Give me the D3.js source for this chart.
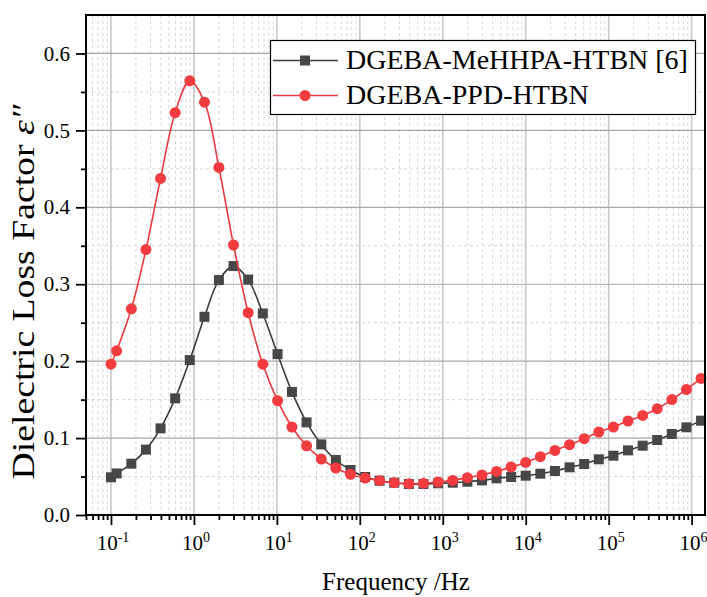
<!DOCTYPE html>
<html><head><meta charset="utf-8">
<script src="https://cdn.jsdelivr.net/npm/d3@7"></script>
<style>body{margin:0;background:#fff}</style>
</head><body><svg id="c" width="707" height="597"></svg>
<script>
const freq = [0.1, 0.117, 0.176, 0.264, 0.396, 0.594, 0.891, 1.34, 2.0, 3.0, 4.51, 6.77, 10.2, 15.2, 22.8, 34.3, 51.4, 77.1, 116, 173, 260, 390, 586, 879, 1320, 1980, 2970, 4450, 6670, 10000, 15000, 22500, 33800, 50700, 76000, 114000, 171000, 257000, 385000, 577000, 866000, 1300000];
const mehhpa = [0.049, 0.054, 0.0667, 0.085, 0.1126, 0.1516, 0.2014, 0.2577, 0.3054, 0.3236, 0.306, 0.262, 0.2092, 0.160, 0.1204, 0.0918, 0.0715, 0.0585, 0.0494, 0.0446, 0.042, 0.0403, 0.0403, 0.0412, 0.042, 0.0433, 0.045, 0.0477, 0.0494, 0.0511, 0.0537, 0.0572, 0.062, 0.0663, 0.0724, 0.0771, 0.084, 0.0901, 0.0975, 0.1053, 0.114, 0.1226];
const ppd = [0.196, 0.2135, 0.268, 0.345, 0.4375, 0.523, 0.5644, 0.5367, 0.4518, 0.351, 0.263, 0.196, 0.1486, 0.1144, 0.090, 0.0728, 0.0611, 0.0529, 0.048, 0.0446, 0.042, 0.0407, 0.0412, 0.0429, 0.045, 0.0485, 0.052, 0.0567, 0.0624, 0.0684, 0.0758, 0.084, 0.0914, 0.0992, 0.1079, 0.1144, 0.1222, 0.1295, 0.1382, 0.15, 0.1633, 0.1776];
const seriesNames = ["DGEBA-MeHHPA-HTBN [6]", "DGEBA-PPD-HTBN"];
const yTicks = [0.0, 0.1, 0.2, 0.3, 0.4, 0.5, 0.6];
const yMinor = [0.05, 0.15, 0.25, 0.35, 0.45, 0.55];
const xTicks = [0.1, 1, 10, 100, 1000, 10000, 100000, 1000000];
const xTickExps = ["-1", "0", "1", "2", "3", "4", "5", "6"];
const xTitle = "Frequency /Hz";
const yTitle = "Dielectric Loss Factor ";

const L = 86, T = 15, R = 705, B = 515;
const FONT = "'Liberation Serif','Times New Roman',serif";
const svg = d3.select("#c");
const x = d3.scaleLog().domain([0.05, 1.45e6]).range([L, R]);
const y = d3.scaleLinear().domain([0, 0.65]).range([B, T]);

const xMinor = [];
for (let e = -2; e <= 6; e++) for (let m = 2; m <= 9; m++) {
  const v = m * Math.pow(10, e);
  if (v >= 0.05 && v <= 1.45e6) xMinor.push(v);
}

const grid = svg.append("g");
grid.selectAll(".xm").data(xMinor).enter().append("line")
  .attr("x1", d => x(d)).attr("x2", d => x(d)).attr("y1", T).attr("y2", B)
  .attr("stroke", "#d6d6d6").attr("stroke-width", 1).attr("stroke-dasharray", "3,3");
grid.selectAll(".ym").data(yMinor).enter().append("line")
  .attr("x1", L).attr("x2", R).attr("y1", d => y(d)).attr("y2", d => y(d))
  .attr("stroke", "#d6d6d6").attr("stroke-width", 1).attr("stroke-dasharray", "3,3");
grid.selectAll(".xM").data(xTicks).enter().append("line")
  .attr("x1", d => x(d)).attr("x2", d => x(d)).attr("y1", T).attr("y2", B)
  .attr("stroke", "#c8c8c8").attr("stroke-width", 1.6);
grid.selectAll(".yM").data(yTicks.slice(1)).enter().append("line")
  .attr("x1", L).attr("x2", R).attr("y1", d => y(d)).attr("y2", d => y(d))
  .attr("stroke", "#a8a8a8").attr("stroke-width", 1.2);

const xAxis = d3.axisBottom(x).tickValues(xTicks).tickSize(10).tickFormat("");
const gx = svg.append("g").attr("transform", `translate(0,${B})`).call(xAxis);
const xAxisMinor = d3.axisBottom(x).tickValues(xMinor).tickSize(5).tickFormat("");
const gxm = svg.append("g").attr("transform", `translate(0,${B})`).call(xAxisMinor);
const yAxis = d3.axisLeft(y).tickValues(yTicks).tickSize(10).tickFormat("");
const gy = svg.append("g").attr("transform", `translate(${L},0)`).call(yAxis);
const yAxisMinor = d3.axisLeft(y).tickValues(yMinor).tickSize(5).tickFormat("");
const gym = svg.append("g").attr("transform", `translate(${L},0)`).call(yAxisMinor);
[gx, gxm, gy, gym].forEach(g => {
  g.select(".domain").remove();
  g.selectAll(".tick line").attr("stroke", "#000").attr("stroke-width", 1.8);
});

svg.append("g").selectAll("text").data(yTicks).enter().append("text")
  .attr("x", 70).attr("y", d => y(d)).attr("dy", "0.34em")
  .attr("text-anchor", "end").attr("font-family", FONT).attr("font-size", 21)
  .attr("fill", "#000").text(d => d.toFixed(1));
const xl = svg.append("g").selectAll("text").data(xTicks).enter().append("text")
  .attr("x", (d) => x(d) + 2).attr("y", 550)
  .attr("text-anchor", "middle").attr("font-family", FONT).attr("font-size", 21).attr("fill", "#000");
xl.append("tspan").text("10");
xl.append("tspan").attr("dy", -8).attr("font-size", 14).text((d, i) => xTickExps[i]);

svg.append("text").attr("x", 396).attr("y", 590).attr("text-anchor", "middle")
  .attr("font-family", FONT).attr("font-size", 25).attr("fill", "#000").text(xTitle);
const yt = svg.append("text").attr("transform", `translate(34,292) rotate(-90)`)
  .attr("text-anchor", "middle").attr("font-family", FONT).attr("font-size", 32).attr("fill", "#000")
  .attr("textLength", 375).attr("lengthAdjust", "spacingAndGlyphs");
yt.append("tspan").text(yTitle);
yt.append("tspan").attr("font-style", "italic").text("ε″");

const series = [
  { name: seriesNames[0], values: mehhpa, line: "#3c3c3c", fill: "#474747", shape: "square" },
  { name: seriesNames[1], values: ppd, line: "#ea3a3f", fill: "#f23c40", shape: "circle" }
];
const line = d3.line().x(d => x(d[0])).y(d => y(d[1])).curve(d3.curveCatmullRom.alpha(0.5));
series.forEach(s => {
  const pts = freq.map((f, i) => [f, s.values[i]]);
  svg.append("path").datum(pts).attr("d", line).attr("fill", "none")
    .attr("stroke", s.line).attr("stroke-width", 1.6);
  const g = svg.append("g");
  if (s.shape === "square") {
    g.selectAll("rect").data(pts).enter().append("rect")
      .attr("x", d => x(d[0]) - 5).attr("y", d => y(d[1]) - 5)
      .attr("width", 10).attr("height", 10).attr("fill", s.fill);
  } else {
    g.selectAll("circle").data(pts).enter().append("circle")
      .attr("cx", d => x(d[0])).attr("cy", d => y(d[1])).attr("r", 5.5).attr("fill", s.fill);
  }
});

svg.append("rect").attr("x", L).attr("y", T).attr("width", R - L).attr("height", B - T)
  .attr("fill", "none").attr("stroke", "#000").attr("stroke-width", 2);

const lg = svg.append("g");
lg.append("rect").attr("x", 270.5).attr("y", 40.5).attr("width", 425).attr("height", 74)
  .attr("fill", "#fff").attr("stroke", "#000").attr("stroke-width", 1.2);
series.forEach((s, i) => {
  const ly = 60.5 + i * 35;
  lg.append("line").attr("x1", 273).attr("x2", 338).attr("y1", ly).attr("y2", ly)
    .attr("stroke", s.line).attr("stroke-width", 1.6);
  if (s.shape === "square") lg.append("rect").attr("x", 300).attr("y", ly - 5).attr("width", 10).attr("height", 10).attr("fill", s.fill);
  else lg.append("circle").attr("cx", 305).attr("cy", ly).attr("r", 5.5).attr("fill", s.fill);
  lg.append("text").attr("x", 346).attr("y", ly + 8).attr("font-family", FONT).attr("font-size", 28)
    .attr("fill", "#000").text(s.name);
});
</script>
</body></html>
